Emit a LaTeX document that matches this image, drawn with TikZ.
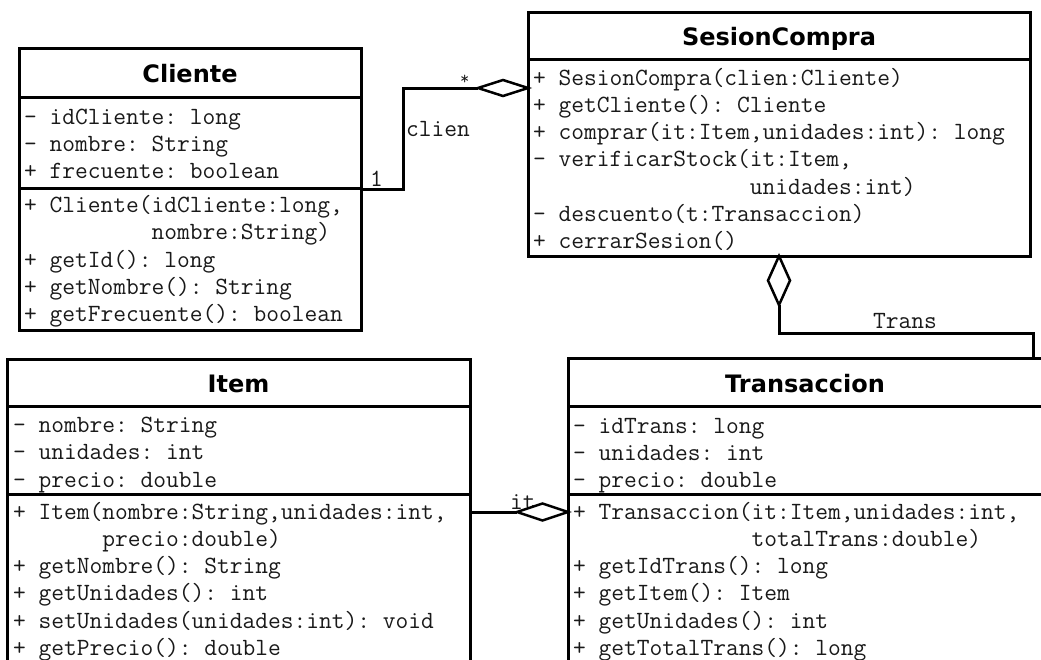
\documentclass[tikz,border=0pt]{standalone}
\usepackage{fontspec}
\usetikzlibrary{shapes.geometric}
\newfontfamily\titlef{DejaVu Sans}
\newcommand\monof{\ttfamily\frenchspacing}
\tikzset{
  classbox/.style={draw=black, line width=3pt, fill=white, inner sep=0pt, outer sep=0pt, anchor=north west, rectangle},
  sepline/.style={draw=black, line width=3pt},
  mono/.style={anchor=base west, inner sep=0pt, outer sep=0pt, text=black!90, font=\monof\fontsize{24.76pt}{28pt}\selectfont},
  ctitle/.style={anchor=base, inner sep=0pt, text=black, font=\titlef\bfseries\fontsize{24pt}{28pt}\selectfont},
  conn/.style={draw=black, line width=3pt},
  aggd/.style={diamond, draw=black, fill=white, line width=2.5pt, inner sep=0pt, outer sep=0pt},
  lbl/.style={anchor=base west, inner sep=0pt, text=black!90, font=\monof\fontsize{24.76pt}{28pt}\selectfont},
}
\newcommand\classrows[4]{\foreach \rowtext [count=\rowi] in {#4} {\node[mono] (#1\rowi) at ({#2},{#3+6+(\rowi-1)*27.3}) {\rowtext};}}
\begin{document}
\begin{tikzpicture}[x=1pt,y=-1pt]
\useasboundingbox (0,0) rectangle (1041,659);
\clip (0,0) rectangle (1041,659);
\fill[white] (0,0) rectangle (1041,659);

% ---------- Cliente ----------
\node[classbox, minimum width=342pt, minimum height=282pt] (cliente) at (19,48) {};
\draw[sepline] (19,97) -- (361,97);
\draw[sepline] (19,188) -- (361,188);
\node[ctitle] (clienteT) at (190,82) {Cliente};
\classrows{cla}{24}{118}{{- idCliente: long},{- nombre: String},{+ frecuente: boolean}}
\classrows{clm}{24}{206.5}{{+ Cliente(idCliente:long,},{\phantom{+ Cliente(}nombre:String)},{+ getId(): long},{+ getNombre(): String},{+ getFrecuente(): boolean}}

% ---------- SesionCompra ----------
\node[classbox, minimum width=502pt, minimum height=244pt] (sesion) at (528,12) {};
\draw[sepline] (528,59) -- (1030,59);
\node[ctitle] (sesionT) at (779,45) {SesionCompra};
\classrows{sem}{533}{79}{{+ SesionCompra(clien:Cliente)},{+ getCliente(): Cliente},{+ comprar(it:Item,unidades:int): long},{- verificarStock(it:Item,},{\phantom{- verificarStock(}unidades:int)},{- descuento(t:Transaccion)},{+ cerrarSesion()}}

% ---------- Item ----------
\node[classbox, minimum width=463pt, minimum height=330pt] (item) at (7,359) {};
\draw[sepline] (7,406) -- (470,406);
\draw[sepline] (7,494) -- (470,494);
\node[ctitle] (itemT) at (238.5,392) {Item};
\classrows{ita}{13}{426.5}{{- nombre: String},{- unidades: int},{- precio: double}}
\classrows{itm}{13}{513}{{+ Item(nombre:String,unidades:int,},{\phantom{+ Item(}precio:double)},{+ getNombre(): String},{+ getUnidades(): int},{+ setUnidades(unidades:int): void},{+ getPrecio(): double}}

% ---------- Transaccion ----------
\node[classbox, minimum width=476pt, minimum height=330pt] (trans) at (568,358) {};
\draw[sepline] (568,406) -- (1044,406);
\draw[sepline] (568,494.5) -- (1044,494.5);
\node[ctitle] (transT) at (805,392) {Transaccion};
\classrows{tra}{573}{427}{{- idTrans: long},{- unidades: int},{- precio: double}}
\classrows{trm}{573}{513}{{+ Transaccion(it:Item,unidades:int,},{\phantom{+ Transaccion(}totalTrans:double)},{+ getIdTrans(): long},{+ getItem(): Item},{+ getUnidades(): int},{+ getTotalTrans(): long}}

% ---------- Cliente -> SesionCompra (clien) ----------
\node[aggd, minimum width=50pt, minimum height=16pt, anchor=east] (d1) at (528,88) {};
\draw[conn] (cliente.east) -- ++(42,0) |- (d1.west);
\node[lbl, font=\monof\fontsize{18pt}{20pt}\selectfont] (star) at (460,84) {*};
\node[lbl] (clienL) at (406,136) {clien};
\node[lbl] (oneL) at (370,186) {1};

% ---------- SesionCompra -> Transaccion (Trans) ----------
\node[aggd, minimum width=22pt, minimum height=49pt, anchor=north] (d2) at (sesion.south) {};
\coordinate (transIn) at (1033,358);
\draw[conn] (d2.south) -- ++(0,28) -| (transIn);
\node[lbl] (transL) at (873,328) {Trans};

% ---------- Item -> Transaccion (it) ----------
\node[lbl] (itL) at (510,509) {it};
\node[aggd, minimum width=51pt, minimum height=17pt, anchor=east] (d3) at (568,512) {};
\draw[conn] (d3.west -| item.east) -- (d3.west);
\end{tikzpicture}
\end{document}
